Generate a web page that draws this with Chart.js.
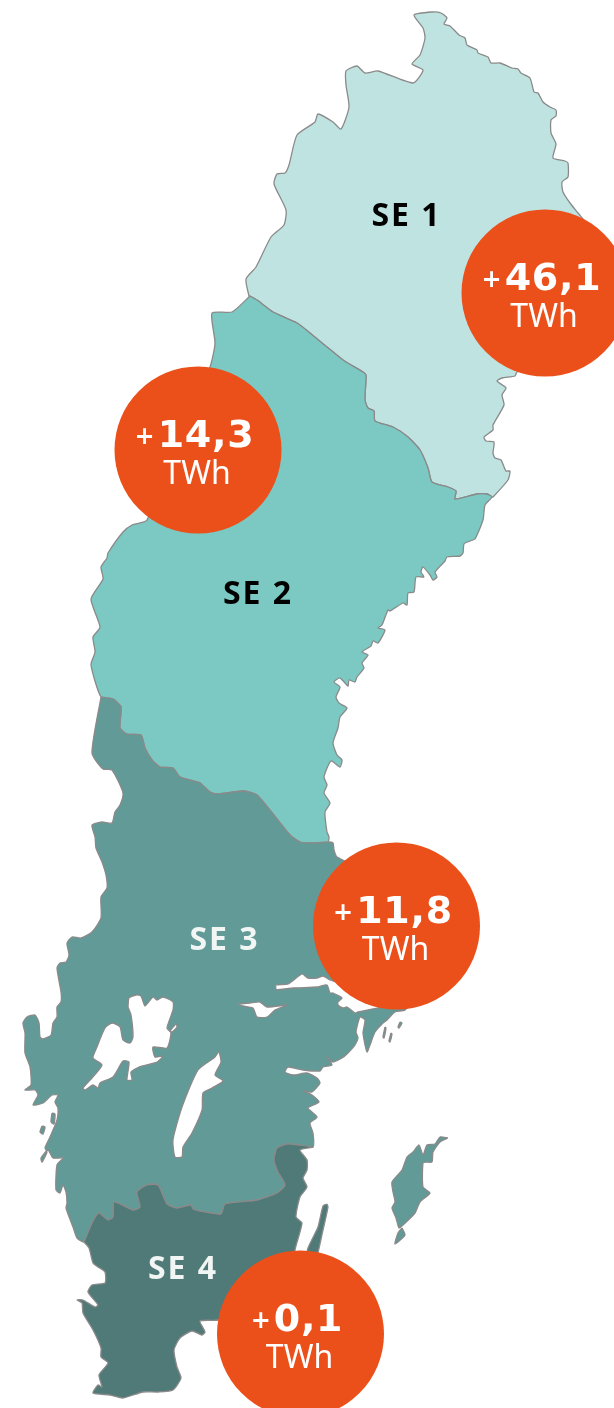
<!DOCTYPE html>
<html lang="sv">
<head>
<meta charset="utf-8">
<title>Elområden SE 1-4</title>
<script src="https://cdn.jsdelivr.net/npm/chart.js@4/dist/chart.umd.js"></script>
<style>
  html, body { margin: 0; padding: 0; background: #fff; }
  canvas { display: block; }
</style>
</head>
<body>
<canvas id="map" width="614" height="1408"></canvas>
<script>
// Zones, surplus in TWh
const ZONES = ["SE 1", "SE 2", "SE 3", "SE 4"];
const SURPLUS = [46.1, 14.3, 11.8, 0.1];
const UNIT = "TWh";

// Circle centres and zone label anchors, in map units
const CIRCLE_X = [545, 198, 396.5, 300.5];
const CIRCLE_Y = [293, 450, 926, 1334];
const LABEL_X = [406.5, 258, 224.5, 183];
const LABEL_Y = [215, 593, 939, 1268];

// Borders between zones (map units, y grows downwards)
const BORDER_12 = [[250,296],[257,300],[273,312],[297,323],[310,333],[327,347],[343,360],[363,372],[366,375],[365,400],[368,408],[374,411],[375,421],[393,427],[408,437],[420,450],[428,468],[432,482],[448,487],[456,491],[455,499],[477,494],[487,494],[492,497]];
const BORDER_23 = [[101,697],[113,699],[121,707],[120,728],[127,734],[141,735],[145,748],[152,760],[160,767],[173,768],[180,777],[200,783],[210,792],[217,794],[243,791],[257,795],[290,835],[300,842],[313,843],[328,842]];
const BORDER_34 = [[84,1242],[93,1221],[99,1213],[108,1220],[113,1217],[114,1202],[133,1210],[140,1207],[137,1192],[147,1185],[158,1185],[167,1204],[177,1208],[191,1205],[193,1209],[200,1211],[221,1214],[225,1204],[257,1200],[277,1193],[285,1185],[278,1172],[274,1160],[277,1148],[287,1144],[299,1145],[313,1147]];

// Coasts and the national border
const SE1_EDGE = [[493,497],[508,480],[510,471],[506,471],[501,460],[495,458],[493,453],[494,442],[486,441],[484,437],[493,430],[493,425],[504,405],[502,395],[506,388],[497,381],[502,378],[515,376],[517,372],[560,360],[600,300],[600,250],[590,228],[578,213],[570,203],[563,192],[562,182],[568,177],[568,163],[565,161],[553,158],[556,144],[551,133],[551,120],[556,116],[556,110],[550,107],[543,102],[538,93],[534,92],[530,78],[521,73],[518,69],[512,68],[500,63],[491,63],[488,57],[478,53],[477,50],[467,45],[465,38],[459,35],[450,26],[444,24],[447,18],[441,13],[432,12],[414,15],[423,28],[425,38],[420,55],[412,64],[423,70],[413,83],[378,71],[365,73],[357,66],[346,71],[346,85],[349,107],[341,129],[333,122],[318,114],[315,122],[297,135],[289,165],[285,173],[277,174],[274,184],[286,210],[284,225],[271,237],[256,267],[246,279],[249,296]];
const SE2_COAST = [[485,505],[483,520],[475,539],[470,541],[464,544],[463,553],[460,556],[447,557],[445,561],[435,572],[437,577],[433,580],[430,575],[423,567],[421,572],[424,577],[416,577],[414,592],[408,593],[407,605],[403,603],[390,611],[388,610],[382,625],[378,628],[385,630],[378,643],[373,641],[371,646],[362,652],[368,655],[362,663],[364,668],[357,677],[355,682],[349,680],[348,686],[340,678],[334,682],[340,687],[336,697],[339,703],[347,708],[340,717],[338,728],[333,743],[337,755],[342,760],[340,767],[331,761],[324,777],[327,785],[324,793],[330,803],[325,812],[327,832],[329,837]];
const SE2_WEST = [[91,665],[95,652],[93,637],[100,627],[91,599],[103,579],[101,567],[107,558],[108,553],[123,532],[132,525],[147,520],[210,367],[215,343],[212,313],[232,312]];
const SE3_EAST = [[333,843],[334,850],[337,857],[420,900],[430,980],[405,1010],[395,1012],[387,1020],[383,1023],[375,1032],[370,1045],[367,1052],[363,1033],[365,1020],[360,1017],[356,1032],[358,1038],[355,1045],[348,1053],[342,1058],[333,1062],[327,1057],[332,1065],[323,1067],[320,1071],[303,1070],[288,1067],[285,1072],[293,1075],[307,1073],[317,1078],[320,1083],[312,1092],[303,1091],[312,1095],[319,1102],[308,1108],[317,1117],[310,1123],[313,1133]];
const SE3_WEST = [[77,1238],[73,1227],[66,1208],[67,1203],[66,1192],[63,1185],[60,1193],[56,1190],[57,1165],[63,1158],[53,1158],[48,1150],[41,1158],[42,1162],[47,1152],[45,1148],[50,1137],[57,1120],[58,1108],[55,1102],[58,1095],[52,1095],[43,1103],[33,1105],[38,1095],[35,1090],[25,1090],[31,1085],[30,1067],[25,1053],[25,1033],[23,1023],[27,1017],[35,1015],[39,1023],[40,1037],[43,1039],[51,1035],[53,1023],[57,1017],[57,1007],[61,1002],[61,992],[57,968],[60,963],[66,962],[69,955],[67,943],[72,937],[81,938],[92,932],[101,918],[101,897],[107,888],[106,875],[102,862],[96,848],[95,837],[92,825],[102,822],[112,823],[115,812],[120,805],[123,793],[112,770],[103,769],[92,753]];
const SE4_EDGE = [[300,1150],[307,1160],[307,1170],[303,1178],[307,1187],[300,1197],[296,1217],[302,1223],[295,1250],[290,1300],[218,1320],[200,1321],[205,1332],[202,1335],[192,1331],[180,1338],[174,1350],[177,1367],[181,1378],[173,1390],[158,1392],[143,1392],[123,1398],[110,1395],[93,1393],[98,1385],[102,1387],[99,1375],[108,1363],[101,1357],[101,1348],[93,1330],[83,1313],[82,1303],[77,1300],[83,1300],[95,1307],[98,1305],[88,1292],[92,1285],[105,1283],[105,1272],[98,1267],[93,1263],[89,1248]];

// Islands
const GOTLAND = [[448,1138],[440,1137],[435,1144],[427,1145],[423,1155],[419,1145],[413,1152],[407,1157],[402,1170],[392,1182],[393,1192],[395,1202],[392,1208],[396,1218],[399,1228],[403,1225],[415,1213],[420,1202],[430,1193],[423,1187],[423,1163],[426,1162],[432,1162],[433,1152],[440,1142]];
const FARO = [[402,1228],[405,1235],[395,1244],[398,1233]];
const OLAND = [[327,1204],[323,1206],[318,1227],[308,1248],[306,1262],[315,1262],[323,1230],[328,1207]];
const SKERRY_A = [[391,1033],[392,1034],[390,1042],[389,1041]];
const SKERRY_B = [[400,1022],[402,1023],[399,1028],[398,1027]];
const SKERRY_C = [[385,1027],[386,1028],[384,1038],[383,1037]];
const SKERRY_D = [[52,1113],[55,1114],[54,1124],[51,1122]];
const SKERRY_E = [[42,1126],[45,1127],[43,1134],[40,1132]];

// Lakes
const VANERN = [[128,1007],[129,998],[136,995],[141,996],[145,1006],[153,997],[157,1000],[163,997],[173,1002],[173,1010],[167,1028],[171,1033],[167,1048],[153,1047],[155,1057],[163,1056],[157,1062],[139,1067],[131,1072],[132,1080],[127,1080],[129,1062],[123,1061],[113,1077],[100,1083],[98,1088],[93,1085],[85,1090],[83,1088],[92,1078],[102,1065],[93,1058],[97,1047],[105,1028],[112,1023],[120,1027],[123,1040],[130,1043],[133,1037],[131,1015]];
const ANIMMEN = [[170,1031],[176,1024],[177,1027],[172,1032]];
const VATTERN = [[219,1051],[221,1062],[215,1075],[223,1081],[212,1088],[203,1093],[202,1110],[192,1133],[183,1147],[182,1157],[175,1157],[173,1140],[182,1107],[198,1070],[215,1057]];
const HJALMAREN = [[238,1004],[250,1003],[260,1002],[267,1007],[287,1005],[275,1010],[267,1017],[257,1017],[253,1008],[243,1006]];
const MALAREN = [[276,990],[276,985],[288,984],[302,974],[308,978],[317,978],[323,976],[330,980],[345,985],[385,1005],[368,1010],[358,1012],[355,1013],[347,1007],[343,1008],[338,1005],[338,1002],[342,998],[333,993],[330,993],[327,985],[317,987],[293,988]];

const SE1_FILL = "#bfe3e0";
const SE2_FILL = "#7cc8c2";
const SE3_FILL = "#629a97";
const SE4_FILL = "#507a77";
const CIRCLE_FILL = "#eb501b";
const EDGE = "#8a8a8a";

function toPoints(pairs){
  return pairs.concat([pairs[0]]).map(([x, y]) => ({ x, y }));
}

function region(label, pairs, fill, edge = EDGE){
  return {
    type: "line",
    label,
    data: toPoints(pairs),
    backgroundColor: fill,
    borderColor: edge,
    borderWidth: 1.3,
    borderJoinStyle: "round",
    fill: "shape",
    pointRadius: 0,
    tension: 0.2,
  };
}

function rev(pairs){
  return pairs.slice().reverse();
}

function fmtSurplus(v){
  return "+" + v.toFixed(1).replace(".", ",");
}

// Text on top of the marks, placed through the chart's scales
const zoneText = {
  id: "zoneText",
  afterDraw(chart){
    const { ctx, scales: { x, y } } = chart;
    ctx.save();
    ctx.textBaseline = "alphabetic";

    ZONES.forEach((name, i) => {
      ctx.font = "bold 32px 'Noto Sans'";
      ctx.letterSpacing = "2px";
      ctx.textAlign = "center";
      ctx.fillStyle = i < 2 ? "#000" : "#f1f6f5";
      ctx.fillText(name, x.getPixelForValue(LABEL_X[i]), y.getPixelForValue(LABEL_Y[i] + 11));
    });

    SURPLUS.forEach((v, i) => {
      const cx = x.getPixelForValue(CIRCLE_X[i]);
      const cy = y.getPixelForValue(CIRCLE_Y[i]);
      const txt = fmtSurplus(v);
      const plus = txt.slice(0, 1);
      const num = txt.slice(1);

      ctx.fillStyle = "#fff";
      ctx.letterSpacing = "0.7px";
      ctx.font = "bold 38px 'DejaVu Sans'";
      const start = cx - ctx.measureText(num).width / 2 + 8;

      ctx.textAlign = "left";
      ctx.fillText(num, start, cy - 3);

      ctx.letterSpacing = "0px";
      ctx.textAlign = "right";
      ctx.font = "bold 24px 'DejaVu Sans'";
      ctx.fillText(plus, start - 3, cy - 6);

      ctx.textAlign = "center";
      ctx.font = "32px 'Noto Sans'";
      ctx.fillText(UNIT, cx - 1, cy + 34);
    });
    ctx.restore();
  }
};

const datasets = [
  region("SE 1", BORDER_12.concat(SE1_EDGE), SE1_FILL),
  region("SE 2", BORDER_12.concat(SE2_COAST, rev(BORDER_23), SE2_WEST), SE2_FILL),
  region("SE 3", BORDER_23.concat(SE3_EAST, rev(BORDER_34), SE3_WEST), SE3_FILL),
  region("SE 4", BORDER_34.concat(SE4_EDGE), SE4_FILL),
  region("Gotland", GOTLAND, SE3_FILL),
  region("Fårö", FARO, SE3_FILL),
  region("Öland", OLAND, SE4_FILL),
  region("Skär A", SKERRY_A, SE3_FILL),
  region("Skär B", SKERRY_B, SE3_FILL),
  region("Skär C", SKERRY_C, SE3_FILL),
  region("Skär D", SKERRY_D, SE3_FILL),
  region("Skär E", SKERRY_E, SE3_FILL),
  region("Vänern", VANERN, "#fff"),
  region("Animmen", ANIMMEN, "#fff"),
  region("Vättern", VATTERN, "#fff"),
  region("Hjälmaren", HJALMAREN, "#fff"),
  region("Mälaren", MALAREN, "#fff"),
  {
    type: "bubble",
    label: "Överskott, TWh",
    data: SURPLUS.map((v, i) => ({ x: CIRCLE_X[i], y: CIRCLE_Y[i], r: 83.5, v })),
    backgroundColor: CIRCLE_FILL,
    borderWidth: 0,
  },
];

// Chart.js paints lower `order` on top, so the list above runs bottom to top
datasets.forEach((d, i) => { d.order = datasets.length - i; });

new Chart(document.getElementById("map"), {
  data: { datasets },
  options: {
    responsive: false,
    animation: false,
    events: [],
    layout: { padding: 0, autoPadding: false },
    plugins: { legend: { display: false }, tooltip: { enabled: false } },
    scales: {
      x: { type: "linear", display: false, min: 0, max: 614 },
      y: { type: "linear", display: false, min: 0, max: 1408, reverse: true },
    },
  },
  plugins: [zoneText],
});
</script>
</body>
</html>
